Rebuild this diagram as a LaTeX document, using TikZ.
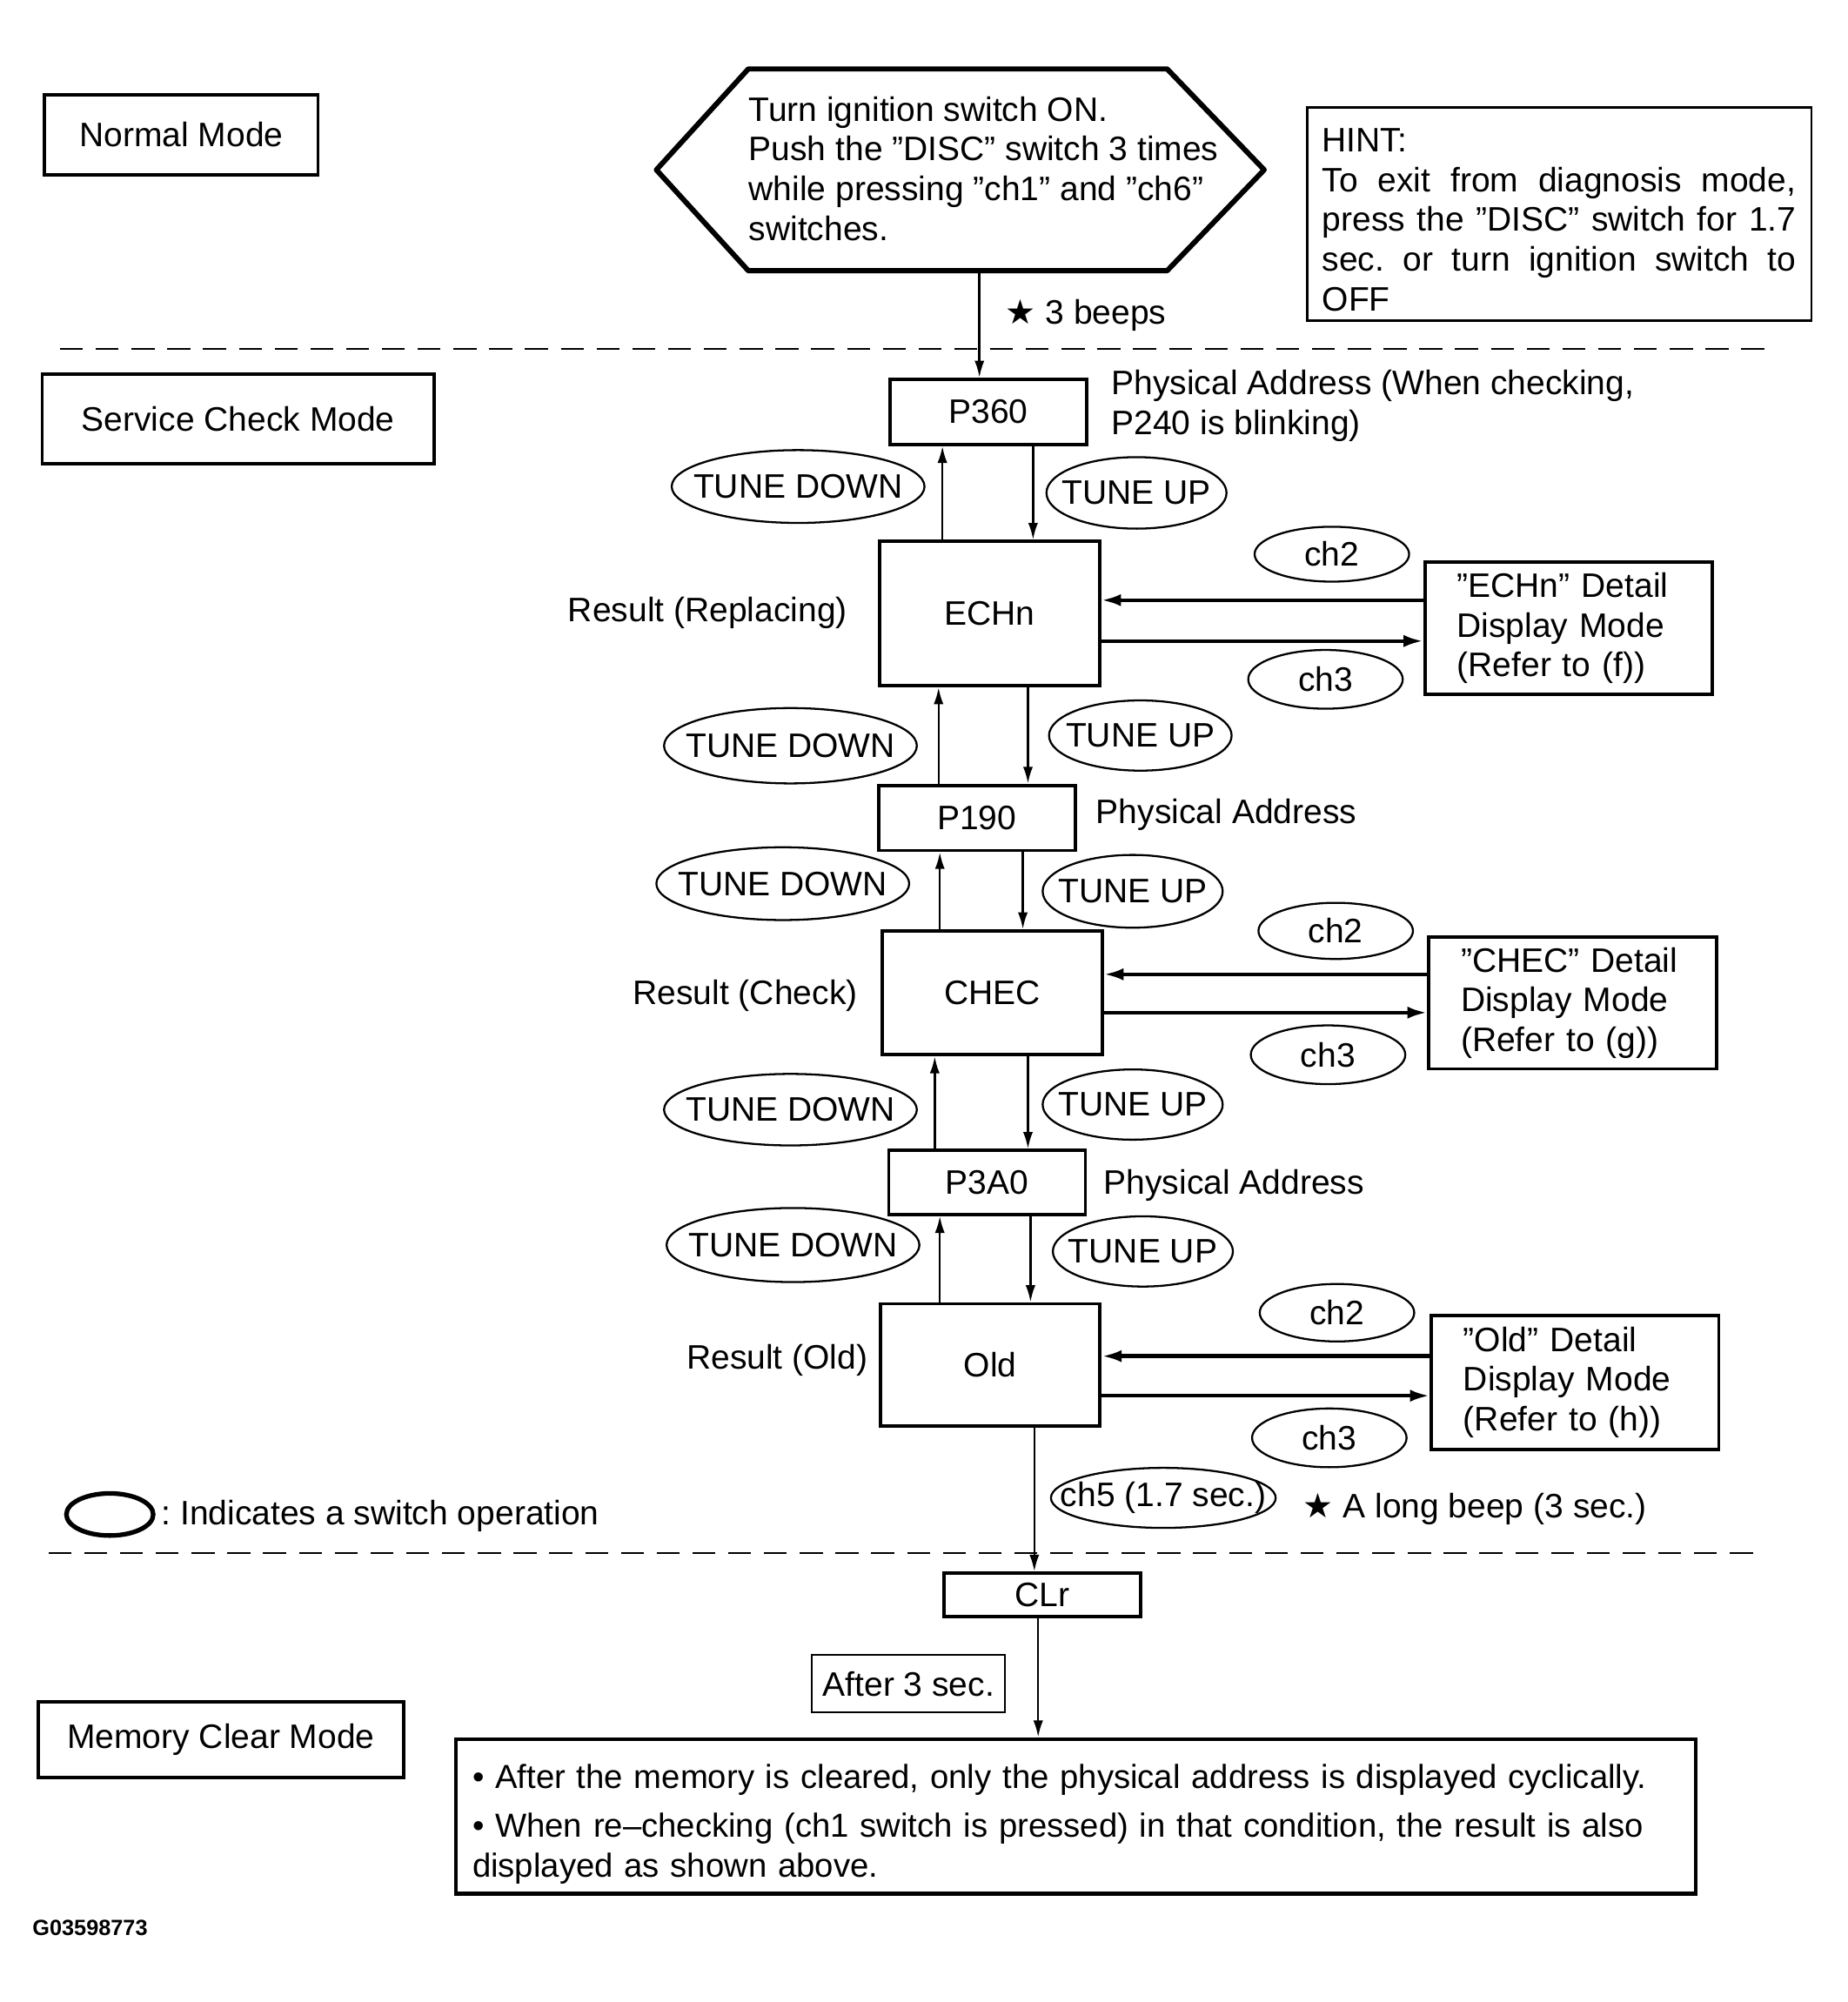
\documentclass[tikz,border=0pt]{standalone}
\usepackage{fontspec}
\setmainfont{Liberation Sans}
\newfontfamily\symfont{DejaVu Sans}
\usetikzlibrary{shapes.geometric,arrows.meta}
\newdimen\unitpx
\unitpx=0.014677cm
\newcommand{\swtext}[1]{\makebox[0pt]{#1}}
\tikzset{
  box/.style={draw, line width=1.1pt, inner sep=0pt, align=center},
  pbox/.style={box, minimum width=154\unitpx, minimum height=51\unitpx},
  rbox/.style={box, minimum width=172\unitpx},
  dbox/.style={box, align=left, text width=175\unitpx, inner xsep=25\unitpx, minimum height=104\unitpx},
  sw/.style={draw, ellipse, line width=0.65pt, inner sep=0pt},
  td/.style={sw, minimum width=198\unitpx, minimum height=57\unitpx},
  tu/.style={sw, minimum width=141\unitpx, minimum height=56\unitpx},
  ch/.style={sw, minimum width=121\unitpx, minimum height=45\unitpx},
  lbl/.style={inner sep=0pt},
  updown/.style={-{Latex[length=5.5pt,width=3.2pt]}, line width=0.7pt},
  side/.style={-{Latex[length=6.5pt,width=4pt]}, line width=1.25pt},
  sep/.style={dash pattern=on 7.5pt off 4.2pt, line width=0.65pt},
}
\begin{document}
\frenchspacing
\begin{tikzpicture}[x=0.014677cm, y=-0.014677cm, font=\fontsize{11.1pt}{13pt}\selectfont]
      \useasboundingbox (0,0) rectangle (1447.2,1567.8);
      \draw[line width=1.7pt, line join=round]
        (514,133) -- (586,54) -- (914,54) -- (990,133) -- (914,212) -- (586,212) -- cycle;
      \coordinate (start) at (767,212);
      \draw[sep] (47,273) -- (1385,273);
      \draw[sep] (38,1216) -- (1380,1216);
      \path
        (142,105.5) node[box, minimum width=214\unitpx, minimum height=63\unitpx] (normal){Normal Mode}
        (186.5,328) node[box, minimum width=307\unitpx, minimum height=70\unitpx] (service){Service Check Mode}
        (173,1362.5) node[box, minimum width=286\unitpx, minimum height=59\unitpx] (memclear){Memory Clear Mode}
        (586,132) node[lbl, anchor=west, align=left] (turn){Turn ignition switch ON.\\Push the ”DISC” switch 3 times\\while pressing ”ch1” and ”ch6”\\switches.}
        (1221,167.5) node[box, align=justify, text width=371\unitpx, inner xsep=12\unitpx, minimum height=167\unitpx, line width=0.8pt] (hint){\rule{0pt}{11.5pt}HINT:\\To exit from diagnosis mode,\linebreak press the ”DISC” switch for 1.7\linebreak sec. or turn ignition switch to\linebreak OFF};
      \path
        (774,322.5) node[pbox] (p360){P360}
        (775,480.5) node[rbox, minimum height=113\unitpx] (echn){ECHn}
        (765,640.5) node[pbox] (p190){P190}
        (777,777.5) node[rbox, minimum height=97\unitpx] (chec){CHEC}
        (773,926) node[pbox, minimum height=50\unitpx] (p3a0){P3A0}
        (775.5,1069) node[rbox, minimum height=96\unitpx] (old){Old}
        (816,1249) node[pbox, minimum height=34\unitpx] (clr){CLr}
        (711.5,1318.5) node[box, line width=0.55pt, minimum width=151\unitpx, minimum height=45\unitpx] (after){After 3 sec.}
        (842.5,1422.5) node[box, line width=1.3pt, align=left, text width=945\unitpx, inner xsep=13\unitpx, minimum height=121\unitpx, font=\fontsize{10.9pt}{13pt}\selectfont] (memo){\rule{0pt}{13pt}• After the memory is cleared, only the physical address is displayed cyclically.\\[3pt]• When re–checking (ch1 switch is pressed) in that condition, the result is also\\displayed as shown above.};
      \path
        (1228.5,492) node[dbox] (dechn){”ECHn” Detail\\Display Mode\\(Refer to (f))}
        (1231.5,785.5) node[dbox, minimum height=103\unitpx] (dchec){”CHEC” Detail\\Display Mode\\(Refer to (g))}
        (1233.5,1082.5) node[dbox, minimum height=105\unitpx] (dold){”Old” Detail\\Display Mode\\(Refer to (h))};
      \path
        (625,381) node[td] (td1){\swtext{TUNE DOWN}}
        (890,386) node[tu] (tu1){\swtext{TUNE UP}}
        (619,584) node[td, minimum height=59\unitpx] (td2){\swtext{TUNE DOWN}}
        (893,576) node[tu, minimum width=143\unitpx, minimum height=55\unitpx] (tu2){\swtext{TUNE UP}}
        (613,692) node[td] (td3){\swtext{TUNE DOWN}}
        (887,698) node[tu, minimum height=57\unitpx] (tu3){\swtext{TUNE UP}}
        (619,869) node[td, minimum height=56\unitpx] (td4){\swtext{TUNE DOWN}}
        (887,865) node[tu, minimum height=55\unitpx] (tu4){\swtext{TUNE UP}}
        (621,975) node[td, minimum height=58\unitpx] (td5){\swtext{TUNE DOWN}}
        (895,980) node[tu, minimum height=55\unitpx] (tu5){\swtext{TUNE UP}}
        (1043,434) node[ch, minimum height=43\unitpx] (ch2a){\swtext{ch2}}
        (1038,532) node[ch, minimum height=46\unitpx] (ch3a){\swtext{ch3}}
        (1046,729) node[ch, minimum height=44\unitpx] (ch2b){\swtext{ch2}}
        (1040,826) node[ch, minimum height=46\unitpx] (ch3b){\swtext{ch3}}
        (1047,1028) node[ch] (ch2c){\swtext{ch2}}
        (1041,1126) node[ch, minimum height=46\unitpx] (ch3c){\swtext{ch3}}
        (911,1173) node[sw, minimum width=176\unitpx, minimum height=47\unitpx] (ch5){\swtext{ch5 (1.7 sec.)}}
        (86,1186) node[sw, line width=1.5pt, minimum width=68\unitpx, minimum height=33\unitpx] (key){};
      \path
        (787,247) node[lbl, anchor=west] (beeps){{\symfont ★} 3 beeps}
        (870,318) node[lbl, anchor=west, align=left] (pa1){Physical Address (When checking,\\P240 is blinking)}
        (858,638) node[lbl, anchor=west] (pa2){Physical Address}
        (864,928) node[lbl, anchor=west] (pa3){Physical Address}
        (664,480) node[lbl, anchor=east] (res1){Result (Replacing)}
        (672,780) node[lbl, anchor=east] (res2){Result (Check)}
        (680,1065) node[lbl, anchor=east] (res3){Result (Old)}
        (1020,1182) node[lbl, anchor=west] (longbeep){{\symfont ★} A long beep (3 sec.)}
        (126,1187) node[lbl, anchor=west] (keytext){: Indicates a switch operation}
        (25,1510) node[lbl, anchor=west, font=\fontsize{7.2pt}{8pt}\selectfont\bfseries] (fig){G03598773};
      \begin{scope}[updown]
        \draw (start) to (start |- p360.north);
        \draw (738,0 |- echn.north) to (738,0 |- p360.south);
        \draw (809,0 |- p360.south) to (809,0 |- echn.north);
        \draw (735,0 |- p190.north) to (735,0 |- echn.south);
        \draw (805,0 |- echn.south) to (805,0 |- p190.north);
        \draw (736,0 |- chec.north) to (736,0 |- p190.south);
        \draw (801,0 |- p190.south) to (801,0 |- chec.north);
        \draw (732,0 |- p3a0.north) to (732,0 |- chec.south);
        \draw (805,0 |- chec.south) to (805,0 |- p3a0.north);
        \draw (736,0 |- old.north) to (736,0 |- p3a0.south);
        \draw (807,0 |- p3a0.south) to (807,0 |- old.north);
        \draw (810,0 |- old.south) to (810,0 |- clr.north);
        \draw (813,0 |- clr.south) to (813,0 |- memo.north);
      \end{scope}
      \begin{scope}[side]
        \draw (dechn.west |- 0,470) to (echn.east |- 0,470);
        \draw (echn.east |- 0,502) to (dechn.west |- 0,502);
        \draw (dchec.west |- 0,763) to (chec.east |- 0,763);
        \draw (chec.east |- 0,793) to (dchec.west |- 0,793);
        \draw (dold.west |- 0,1062) to (old.east |- 0,1062);
        \draw (old.east |- 0,1093) to (dold.west |- 0,1093);
      \end{scope}
    \end{tikzpicture}
\end{document}
